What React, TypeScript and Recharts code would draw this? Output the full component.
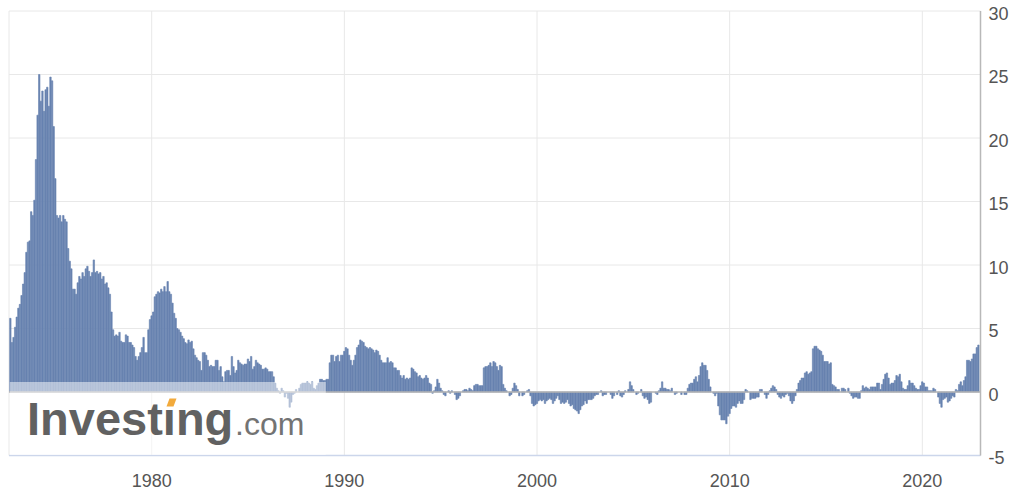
import React from "react";
import { Bar, BarChart, CartesianGrid, ReferenceLine, XAxis, YAxis } from "recharts";

// Year-over-year % change, monthly. First value is Sep 1972.
const seriesStart = { year: 1972, month: 8 };

const cpi1970s = [
  5.8, 3.9, 4.3, 5.1,
  5.9, 6.6, 6.9, 7.6, 8.5, 9.4, 11.0, 11.8, 11.9, 14.2, 13.9, 15.1,
  18.3, 21.8, 25.0, 22.9, 23.7, 22.1, 23.8, 24.0, 22.5, 24.8, 24.5, 20.9,
  16.8, 13.9, 13.7, 13.9, 13.4, 13.9, 13.6, 13.4, 11.3, 10.3, 9.7, 8.1,
  8.1, 7.7, 8.6, 9.1, 8.9, 9.4, 9.1, 9.7, 9.9, 9.5, 9.1, 9.4,
  10.4, 9.4, 9.5, 9.3, 9.4, 8.9, 9.1, 8.5, 8.6, 8.2, 7.7, 6.3,
  4.9, 4.4, 4.5, 4.4, 4.7, 4.0, 3.9, 3.9, 4.5, 4.4, 3.9, 3.9,
  3.7, 3.5, 2.8, 2.5, 2.8, 3.1, 3.5, 4.3, 3.1, 3.1, 4.9, 5.7,
];

const cpi1980s = [
  6.0, 6.3, 7.5, 7.7, 7.9, 7.8, 8.1, 7.9, 8.3, 7.9, 8.7, 7.9,
  7.7, 7.0, 6.2, 5.8, 5.0, 4.9, 4.7, 4.4, 4.2, 3.9, 3.8, 4.1,
  3.9, 4.0, 3.4, 2.9, 2.7, 2.5, 2.4, 1.7, 3.1, 3.1, 2.9, 2.5,
  2.0, 2.1, 2.0, 2.0, 2.5, 2.5, 1.7, 2.0, 1.2, 0.8, 1.6, 1.7,
  1.7, 1.3, 2.8, 2.0, 1.5, 1.7, 2.5, 2.3, 2.2, 2.1, 2.2, 2.2,
  2.6, 2.4, 2.8, 1.8, 2.0, 2.5, 2.3, 2.2, 2.1, 1.8, 1.8, 1.9,
  1.8, 1.6, 1.6, 1.6, 1.2, 0.7, 0.3, 0.1, -0.1, 0.3, 0.1, -0.4,
  -0.1, -0.5, -1.2, -0.8, -0.2, -0.1, 0.2, 0.0, 0.3, 0.6, 0.7, 0.7,
  0.7, 0.8, 0.7, 0.6, 0.8, 0.3, 0.2, 0.5, 0.7, 1.0, 1.0, 0.9,
  0.9, 1.0, 1.0, 2.3, 2.9, 2.9, 2.4, 2.8, 2.9, 2.4, 2.9, 2.9,
];

const cpi1990s = [
  3.2, 3.5, 3.4, 2.9, 2.5, 2.1, 2.5, 2.9, 3.5, 3.7, 4.1, 4.0,
  3.9, 3.6, 3.5, 3.4, 3.5, 3.4, 3.3, 3.1, 3.3, 3.2, 2.9, 2.5,
  2.3, 2.3, 2.3, 2.7, 2.3, 2.4, 2.3, 1.9, 1.9, 1.7, 1.7, 1.3,
  1.1, 1.3, 1.0, 1.1, 1.0, 1.1, 1.9, 1.8, 1.6, 1.5, 1.2, 1.3,
  1.1, 1.0, 1.1, 1.3, 1.1, 0.7, 0.6, -0.1, 0.1, 0.4, 1.0, 0.7,
  0.3, 0.1, -0.2, -0.3, 0.0, 0.1, -0.1, 0.1, 0.0, -0.2, -0.6, -0.5,
  -0.3, 0.0, 0.1, 0.2, 0.2, 0.1, 0.3, 0.2, 0.1, 0.5, 0.6, 0.6,
  0.5, 0.5, 0.5, 1.9, 2.0, 2.0, 2.1, 2.3, 2.0, 2.4, 2.3, 2.0,
  1.7, 2.1, 2.0, 0.6, 0.3, 0.1, 0.0, -0.3, -0.2, 0.3, 0.7, 0.5,
  0.2, -0.3, 0.0, -0.3, -0.2, 0.0, 0.1, 0.2, -0.3, -0.9, -1.1, -1.0,
];

const cpi2000s = [
  -0.9, -0.7, -0.6, -0.7, -0.6, -0.9, -0.7, -0.6, -0.5, -0.6, -0.9, -0.7,
  -0.5, -0.3, -0.6, -0.9, -0.8, -0.9, -0.8, -0.6, -0.9, -1.1, -1.0, -1.3,
  -1.4, -1.5, -1.7, -1.4, -1.1, -1.0, -0.7, -0.9, -0.6, -0.6, -0.6, -0.5,
  -0.3, -0.2, -0.2, 0.0, 0.1, -0.3, -0.2, -0.2, 0.0, 0.0, -0.2, -0.5,
  -0.3, 0.0, -0.2, 0.1, -0.3, -0.4, -0.2, 0.1, 0.0, 0.2, 0.8, 0.5,
  0.2, 0.0, -0.2, -0.1, 0.0, 0.2, -0.3, -0.5, -0.4, -0.6, -0.9, -0.8,
  0.0, 0.0, -0.1, -0.2, 0.1, 0.3, 0.8, 0.3, 0.3, 0.2, 0.2, 0.1,
  0.3, 0.0, -0.2, -0.1, 0.0, 0.0, -0.2, 0.0, -0.2, -0.2, 0.3, 0.6,
  0.7, 0.7, 1.0, 1.2, 0.8, 1.3, 2.0, 2.3, 2.1, 2.1, 1.7, 1.0,
  0.4, 0.0, -0.1, -0.3, -0.1, -1.1, -1.8, -2.2, -2.2, -2.2, -2.5, -1.9,
];

const cpi2010s = [
  -1.7, -1.3, -1.1, -1.1, -1.2, -0.9, -0.7, -0.9, -0.9, -0.6, 0.2, 0.1,
  0.0, -0.6, -0.5, -0.5, -0.5, -0.4, -0.4, 0.2, 0.2, 0.0, -0.2, -0.5,
  -0.2, 0.1, 0.3, 0.5, 0.4, 0.2, -0.2, -0.4, -0.5, -0.3, -0.4, -0.2,
  -0.1, -0.3, -0.7, -0.9, -0.7, -0.3, 0.2, 0.7, 0.9, 1.1, 1.1, 1.5,
  1.6, 1.4, 1.5, 1.6, 3.4, 3.6, 3.6, 3.4, 3.3, 3.2, 2.9, 2.4,
  2.4, 2.4, 2.2, 2.3, 0.6, 0.5, 0.4, 0.2, 0.2, 0.0, 0.3, 0.3,
  0.2, 0.0, 0.3, -0.1, -0.3, -0.5, -0.4, -0.4, -0.5, -0.5, 0.1, 0.5,
  0.3, 0.4, 0.3, 0.2, 0.4, 0.4, 0.4, 0.4, 0.7, 0.7, 0.2, 0.6,
  1.0, 1.4, 1.5, 1.1, 0.6, 0.7, 0.7, 0.9, 1.3, 1.2, 1.4, 0.8,
  0.3, 0.2, 0.2, 0.5, 0.9, 0.7, 0.7, 0.5, 0.3, 0.2, 0.2, 0.5,
];

const cpi2020s = [
  0.8, 0.7, 0.4, 0.4, 0.1, 0.1, 0.1, 0.3, 0.2, 0.0, -0.4, -0.9,
  -1.2, -0.6, -0.5, -0.4, -0.8, -0.7, -0.5, -0.3, -0.4, 0.2, 0.1, 0.6,
  0.8, 0.5, 0.9, 1.2, 2.5, 2.5, 2.4, 2.6, 3.0, 3.0, 3.5, 3.7,
];

const yearTicks = [1980, 1990, 2000, 2010, 2020];
const valueTicks = [-5, 0, 5, 10, 15, 20, 25, 30];

const allValues = [...cpi1970s, ...cpi1980s, ...cpi1990s, ...cpi2000s, ...cpi2010s, ...cpi2020s];
const rows = allValues.map((v, i) => ({
  t: seriesStart.year + (seriesStart.month + i) / 12,
  v,
}));

const FONT = "'Liberation Sans', Arial, Helvetica, sans-serif";
const LABEL = "#555";
const BAR = "#6883b0";

function YTick({ x, y, payload }: any) {
  return (
    <text x={x} y={y} dy={8.5} fill={LABEL} fontSize={18} fontFamily={FONT} textAnchor="start">
      {payload.value}
    </text>
  );
}

function XTick({ x, y, payload }: any) {
  return (
    <text x={x} y={y} dy={13} fill={LABEL} fontSize={18} fontFamily={FONT} textAnchor="middle">
      {payload.value}
    </text>
  );
}

export default function App() {
  return (
    <div style={{ position: "absolute", left: 0, top: 0, width: 1024, height: 501, background: "#fff" }}>
      <BarChart
        width={1024}
        height={501}
        data={rows}
        margin={{ top: 11, right: 0, bottom: 0, left: 9 }}
      >
        <CartesianGrid stroke="#e8e8e8" />
        <XAxis
          dataKey="t"
          type="number"
          domain={[1972.593, 2023.02]}
          allowDataOverflow
          ticks={yearTicks}
          interval={0}
          height={45.5}
          tickLine={false}
          tickSize={0}
          tickMargin={18}
          axisLine={{ stroke: "#ccd6eb", strokeWidth: 1.5 }}
          tick={<XTick />}
        />
        <YAxis
          orientation="right"
          domain={[-5, 30]}
          ticks={valueTicks}
          interval={0}
          width={43.5}
          tickLine={false}
          tickSize={0}
          tickMargin={8}
          axisLine={{ stroke: "#b8b8b8", strokeWidth: 1.5 }}
          tick={<YTick />}
        />
        <YAxis
          yAxisId="l"
          orientation="left"
          domain={[-5, 30]}
          width={0}
          tick={false}
          tickLine={false}
          axisLine={{ stroke: "#b8b8b8", strokeWidth: 1.5 }}
        />
        <ReferenceLine y={0} stroke="#b4b4b4" strokeWidth={1.5} />
        <Bar
          dataKey="v"
          fill={BAR}
          stroke={BAR}
          strokeWidth={0.6}
          barSize={2}
          isAnimationActive={false}
        />
      </BarChart>
      <svg
        width={1024}
        height={501}
        style={{ position: "absolute", left: 0, top: 0, pointerEvents: "none" }}
      >
        <rect x={9.8} y={382} width={316} height={73} fill="#ffffff" fillOpacity={0.5} />
        <text x={27} y={435} fontSize={47} fontWeight="bold" fill="#616161" fontFamily={FONT}>
          Investıng
        </text>
        <polygon points="166.5,406.5 173.5,406.5 176.5,398.5 169.5,398.5" fill="#f2aa3c" />
        <text x={235} y={435} fontSize={32} fill="#737373" fontFamily={FONT}>
          .com
        </text>
      </svg>
    </div>
  );
}
